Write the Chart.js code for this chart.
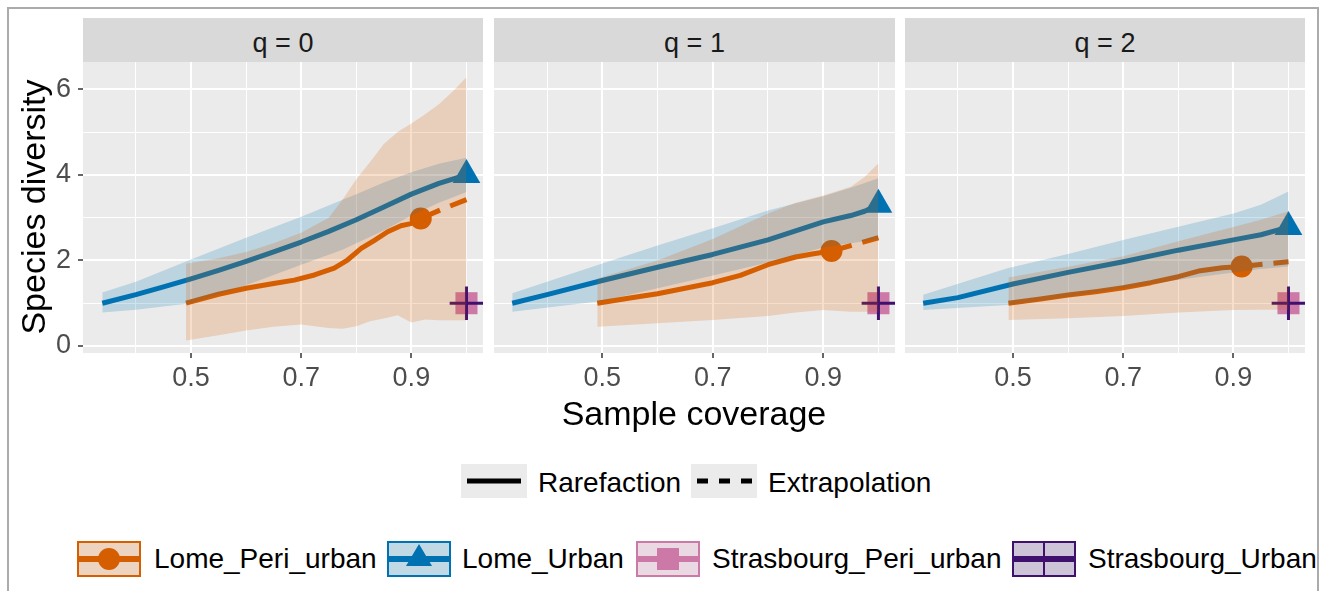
<!DOCTYPE html>
<html>
<head>
<meta charset="utf-8">
<script src="https://cdn.jsdelivr.net/npm/chart.js@4.4.1/dist/chart.umd.min.js"></script>
<style>
  html, body { margin: 0; padding: 0; background: #ffffff; }
  body { width: 1328px; height: 591px; overflow: hidden; position: relative;
         font-family: "Liberation Sans", Arial, sans-serif; }
  .frame { position: absolute; left: 7px; top: 7px; width: 1312px; height: 640px;
           border: 2px solid #ABABAB; box-sizing: border-box; }
  .strip { position: absolute; top: 18px; height: 41px; padding-top: 3px; background: #D9D9D9;
           color: #1A1A1A; font-size: 27px; line-height: 44px; text-align: center; white-space: nowrap; }
  canvas.panel { position: absolute; top: 62px; }
  .title { position: absolute; color: #000; font-size: 34px; line-height: 40px; white-space: nowrap; }
  .legtxt { position: absolute; color: #000; font-size: 28px; line-height: 34px; white-space: nowrap; }
  .key { position: absolute; display: block; }
</style>
</head>
<body>
<div class="frame"></div>

<div id="strips"></div>
<canvas id="c0" class="panel" width="483" height="340" style="left:0px"></canvas>
<canvas id="c1" class="panel" width="401" height="340" style="left:494px"></canvas>
<canvas id="c2" class="panel" width="400" height="340" style="left:905px"></canvas>

<div class="title" id="xtitle" style="left:494px; width:400px; top:393px; text-align:center;">Sample coverage</div>
<div class="title" id="ytitle" style="left:-117px; top:187px; width:300px; height:40px; text-align:center; transform:rotate(-90deg);">Species diversity</div>

<div id="legend"></div>

<script>
// ---------------- axes / labels ----------------
const xMin = 0.304, xMax = 1.030;
const yMin = -0.164, yMax = 6.639;
const xGrid = [0.4, 0.5, 0.6, 0.7, 0.8, 0.9, 1.0];
const xLabelled = [0.5, 0.7, 0.9];
const yGrid = [0, 1, 2, 3, 4, 5, 6];
const yLabelled = [0, 2, 4, 6];
const panelTitles = ['q = 0', 'q = 1', 'q = 2'];
const methodNames = ['Rarefaction', 'Extrapolation'];
const seriesNames = ['Lome_Peri_urban', 'Lome_Urban', 'Strasbourg_Peri_urban', 'Strasbourg_Urban'];

// ---------------- q = 0 ----------------
const periRareCovQ0 = [0.491, 0.55, 0.6, 0.65, 0.6875, 0.724, 0.76, 0.784, 0.809, 0.833, 0.857, 0.881, 0.899, 0.917];
const periRareQ0    = [1.00, 1.21, 1.35, 1.46, 1.54, 1.66, 1.82, 2.01, 2.28, 2.47, 2.67, 2.81, 2.86, 2.98];
const periExtCovQ0  = [0.917, 0.96, 1.0];
const periExtQ0     = [2.98, 3.22, 3.42];
const periBandCovQ0 = [0.491, 0.55, 0.6, 0.65, 0.7, 0.75, 0.775, 0.8, 0.825, 0.85, 0.875, 0.9, 0.925, 0.95, 0.975, 1.0];
const periUppQ0     = [1.92, 2.05, 2.2, 2.4, 2.65, 3.0, 3.42, 3.9, 4.3, 4.72, 5.0, 5.2, 5.42, 5.65, 5.95, 6.28];
const periLowQ0     = [0.13, 0.25, 0.36, 0.45, 0.5, 0.42, 0.4, 0.46, 0.58, 0.64, 0.72, 0.55, 0.62, 0.6, 0.6, 0.6];
const urbRareCovQ0  = [0.339, 0.4, 0.45, 0.5, 0.55, 0.6, 0.65, 0.7, 0.75, 0.8, 0.85, 0.9, 0.95, 0.975, 1.0];
const urbRareQ0     = [1.00, 1.20, 1.38, 1.57, 1.77, 1.98, 2.20, 2.43, 2.68, 2.95, 3.25, 3.55, 3.80, 3.90, 4.00];
const urbBandCovQ0  = [0.339, 0.4, 0.5, 0.6, 0.7, 0.775, 0.8, 0.85, 0.9, 0.95, 1.0];
const urbUppQ0      = [1.25, 1.5, 2.02, 2.53, 3.02, 3.42, 3.55, 3.82, 4.06, 4.26, 4.40];
const urbLowQ0      = [0.78, 0.85, 1.0, 1.42, 1.9, 2.25, 2.4, 2.7, 3.05, 3.35, 3.6];

// ---------------- q = 1 ----------------
const periRareCovQ1 = [0.491, 0.55, 0.6, 0.65, 0.7, 0.75, 0.8, 0.85, 0.88, 0.915];
const periRareQ1    = [1.00, 1.12, 1.22, 1.35, 1.48, 1.65, 1.90, 2.08, 2.15, 2.22];
const periExtCovQ1  = [0.915, 1.0];
const periExtQ1     = [2.22, 2.53];
const periBandCovQ1 = [0.491, 0.6, 0.7, 0.8, 0.85, 0.9, 0.95, 0.975, 1.0];
const periUppQ1     = [1.58, 2.0, 2.5, 3.1, 3.35, 3.52, 3.72, 3.95, 4.27];
const periLowQ1     = [0.45, 0.53, 0.61, 0.70, 0.78, 0.84, 0.80, 0.80, 0.80];
const urbRareCovQ1  = [0.337, 0.4, 0.5, 0.6, 0.7, 0.8, 0.9, 0.95, 0.975, 1.0];
const urbRareQ1     = [1.00, 1.20, 1.53, 1.84, 2.14, 2.48, 2.90, 3.05, 3.15, 3.30];
const urbBandCovQ1  = [0.337, 0.5, 0.6, 0.7, 0.8, 0.9, 0.95, 1.0];
const urbUppQ1      = [1.23, 1.93, 2.35, 2.75, 3.17, 3.5, 3.7, 3.92];
const urbLowQ1      = [0.80, 1.05, 1.35, 1.65, 1.95, 2.30, 2.40, 2.50];

// ---------------- q = 2 ----------------
const periRareCovQ2 = [0.4917, 0.55, 0.6, 0.65, 0.7, 0.75, 0.8, 0.84, 0.88, 0.915];
const periRareQ2    = [1.00, 1.10, 1.19, 1.27, 1.36, 1.48, 1.62, 1.76, 1.83, 1.86];
const periExtCovQ2  = [0.915, 1.0];
const periExtQ2     = [1.86, 1.97];
const periBandCovQ2 = [0.4917, 0.6, 0.7, 0.8, 0.9, 0.95, 1.0];
const periUppQ2     = [1.60, 1.85, 2.10, 2.45, 2.78, 2.95, 3.15];
const periLowQ2     = [0.61, 0.65, 0.70, 0.78, 0.84, 0.85, 0.85];
const urbRareCovQ2  = [0.337, 0.4, 0.5, 0.6, 0.7, 0.8, 0.9, 0.95, 1.0];
const urbRareQ2     = [1.00, 1.13, 1.45, 1.72, 1.97, 2.24, 2.48, 2.60, 2.78];
const urbBandCovQ2  = [0.337, 0.49, 0.6, 0.7, 0.8, 0.9, 0.95, 1.0];
const urbUppQ2      = [1.20, 1.82, 2.15, 2.48, 2.79, 3.10, 3.30, 3.61];
const urbLowQ2      = [0.84, 0.96, 1.15, 1.35, 1.55, 1.72, 1.80, 1.86];

// observed points (sample coverage, diversity) per panel q = 0, 1, 2
const periObsCov = [0.917, 0.915, 0.915];
const periObs    = [2.98, 2.22, 1.86];
const urbObsCov  = [1.0, 1.0, 1.0];
const urbObs     = [4.00, 3.30, 2.78];
const strasPeriObsCov = [1.0, 1.0, 1.0];
const strasPeriObs    = [1.0, 1.0, 1.0];
const strasUrbObsCov  = [1.0, 1.0, 1.0];
const strasUrbObs     = [1.0, 1.0, 1.0];

// ---------------- styles ----------------
const colOrange = '#D55E00', colBlue = '#0072B2', colPink = '#CC79A7', colPurple = '#40106F';
const bandOrange = 'rgba(213,94,0,0.2)', bandBlue = 'rgba(0,114,178,0.2)';
const bandPink = 'rgba(204,121,167,0.2)', bandPurple = 'rgba(64,16,111,0.2)';
const FONT = "'Liberation Sans', Arial, sans-serif";

const panels = [
  { periRareCov: periRareCovQ0, periRare: periRareQ0, periExtCov: periExtCovQ0, periExt: periExtQ0,
    periBandCov: periBandCovQ0, periUpp: periUppQ0, periLow: periLowQ0,
    urbRareCov: urbRareCovQ0, urbRare: urbRareQ0, urbBandCov: urbBandCovQ0, urbUpp: urbUppQ0, urbLow: urbLowQ0 },
  { periRareCov: periRareCovQ1, periRare: periRareQ1, periExtCov: periExtCovQ1, periExt: periExtQ1,
    periBandCov: periBandCovQ1, periUpp: periUppQ1, periLow: periLowQ1,
    urbRareCov: urbRareCovQ1, urbRare: urbRareQ1, urbBandCov: urbBandCovQ1, urbUpp: urbUppQ1, urbLow: urbLowQ1 },
  { periRareCov: periRareCovQ2, periRare: periRareQ2, periExtCov: periExtCovQ2, periExt: periExtQ2,
    periBandCov: periBandCovQ2, periUpp: periUppQ2, periLow: periLowQ2,
    urbRareCov: urbRareCovQ2, urbRare: urbRareQ2, urbBandCov: urbBandCovQ2, urbUpp: urbUppQ2, urbLow: urbLowQ2 }
];

const pts = (xs, ys) => xs.map((x, i) => ({ x: x, y: ys[i] }));
const near = (v, arr) => arr.some(a => Math.abs(a - v) < 1e-6);

const bgPlugin = {
  id: 'panelBg',
  beforeDraw(chart) {
    const a = chart.chartArea, ctx = chart.ctx;
    ctx.save();
    ctx.fillStyle = '#EBEBEB';
    ctx.fillRect(a.left, a.top, a.right - a.left, a.bottom - a.top);
    ctx.restore();
  }
};

Chart.defaults.font.family = FONT;

function makePanel(canvasId, k, showY) {
  const p = panels[k];
  const none = { pointRadius: 0, pointHoverRadius: 0, borderWidth: 0 };
  const datasets = [
    // ribbons (drawn on top, index 0 is painted last)
    Object.assign({ label: seriesNames[0] + ' upper', data: pts(p.periBandCov, p.periUpp), fill: '+1', backgroundColor: bandOrange, borderColor: 'rgba(0,0,0,0)' }, none),
    Object.assign({ label: seriesNames[0] + ' lower', data: pts(p.periBandCov, p.periLow), fill: false, borderColor: 'rgba(0,0,0,0)' }, none),
    Object.assign({ label: seriesNames[1] + ' upper', data: pts(p.urbBandCov, p.urbUpp), fill: '+1', backgroundColor: bandBlue, borderColor: 'rgba(0,0,0,0)' }, none),
    Object.assign({ label: seriesNames[1] + ' lower', data: pts(p.urbBandCov, p.urbLow), fill: false, borderColor: 'rgba(0,0,0,0)' }, none),
    // reference markers
    { label: seriesNames[3], data: pts([strasUrbObsCov[k]], [strasUrbObs[k]]), showLine: false,
      pointStyle: 'cross', pointRadius: 16.8, pointHoverRadius: 16.8, pointBorderColor: colPurple, pointBorderWidth: 3, pointBackgroundColor: colPurple },
    { label: seriesNames[2], data: pts([strasPeriObsCov[k]], [strasPeriObs[k]]), showLine: false,
      pointStyle: 'rect', pointRadius: 15.6, pointHoverRadius: 15.6, pointBorderWidth: 0, pointBackgroundColor: colPink },
    { label: seriesNames[0] + ' obs', data: pts([periObsCov[k]], [periObs[k]]), showLine: false,
      pointStyle: 'circle', pointRadius: 11, pointHoverRadius: 11, pointBorderWidth: 0, pointBackgroundColor: colOrange },
    { label: seriesNames[1] + ' obs', data: pts([urbObsCov[k]], [urbObs[k]]), showLine: false,
      pointStyle: 'triangle', pointRadius: 16, pointHoverRadius: 16, pointBorderWidth: 0, pointBackgroundColor: colBlue },
    // lines
    { label: seriesNames[0] + ' ' + methodNames[1], data: pts(p.periExtCov, p.periExt), fill: false, borderColor: colOrange, borderWidth: 5, borderDash: [21, 11], pointRadius: 0, pointHoverRadius: 0 },
    { label: seriesNames[0] + ' ' + methodNames[0], data: pts(p.periRareCov, p.periRare), fill: false, borderColor: colOrange, borderWidth: 5, pointRadius: 0, pointHoverRadius: 0 },
    { label: seriesNames[1] + ' ' + methodNames[0], data: pts(p.urbRareCov, p.urbRare), fill: false, borderColor: colBlue, borderWidth: 5, pointRadius: 0, pointHoverRadius: 0 }
  ];

  return new Chart(document.getElementById(canvasId), {
    type: 'line',
    data: { datasets: datasets },
    plugins: [bgPlugin],
    options: {
      responsive: false, animation: false, devicePixelRatio: 1,
      events: [],
      layout: { padding: 0, autoPadding: false },
      elements: { line: { tension: 0, borderJoinStyle: 'round', borderCapStyle: 'butt' }, point: { radius: 0 } },
      plugins: { legend: { display: false }, tooltip: { enabled: false }, filler: { propagate: false } },
      scales: {
        x: {
          type: 'linear', min: xMin, max: xMax,
          afterBuildTicks: s => { s.ticks = xGrid.map(v => ({ value: v })); },
          afterFit: s => { s.height = 49; s.paddingLeft = 0; s.paddingRight = 0; },
          border: { display: false },
          grid: {
            color: '#FFFFFF',
            lineWidth: c => (c.tick && near(c.tick.value, xLabelled)) ? 2 : 1,
            drawTicks: true, tickLength: 5,
            tickColor: c => (c.tick && near(c.tick.value, xLabelled)) ? '#333333' : 'rgba(0,0,0,0)',
            tickWidth: 1.5
          },
          ticks: {
            autoSkip: false, maxRotation: 0, minRotation: 0, padding: 4,
            color: '#4D4D4D', font: { size: 27, family: FONT },
            callback: v => near(v, xLabelled) ? v.toFixed(1) : ''
          }
        },
        y: {
          type: 'linear', min: yMin, max: yMax,
          afterBuildTicks: s => { s.ticks = yGrid.map(v => ({ value: v })); },
          afterFit: s => { s.width = showY ? 83 : 0; s.paddingTop = 0; s.paddingBottom = 0; },
          border: { display: false },
          grid: {
            color: '#FFFFFF',
            lineWidth: c => (c.tick && near(c.tick.value, yLabelled)) ? 2 : 1,
            drawTicks: showY, tickLength: 5,
            tickColor: c => (c.tick && near(c.tick.value, yLabelled)) ? '#333333' : 'rgba(0,0,0,0)',
            tickWidth: 1.5
          },
          ticks: {
            display: showY, autoSkip: false, padding: 7,
            color: '#4D4D4D', font: { size: 27, family: FONT },
            callback: v => near(v, yLabelled) ? String(Math.round(v)) : ''
          }
        }
      }
    }
  });
}

// strips
const stripLefts = [83, 494, 905], stripWidths = [400, 401, 400];
const stripHost = document.getElementById('strips');
panelTitles.forEach((t, i) => {
  const d = document.createElement('div');
  d.className = 'strip';
  d.style.left = stripLefts[i] + 'px';
  d.style.width = stripWidths[i] + 'px';
  d.textContent = t;
  stripHost.appendChild(d);
});

makePanel('c0', 0, true);
makePanel('c1', 1, false);
makePanel('c2', 2, false);

// ---------------- legends ----------------
const leg = document.getElementById('legend');
function addKey(left, top, svg) {
  const d = document.createElement('div');
  d.className = 'key';
  d.style.left = left + 'px'; d.style.top = top + 'px';
  d.innerHTML = svg;
  leg.appendChild(d);
}
function addText(left, top, txt) {
  const d = document.createElement('div');
  d.className = 'legtxt';
  d.style.left = left + 'px'; d.style.top = top + 'px';
  d.textContent = txt;
  leg.appendChild(d);
}
// line-type legend
addKey(461, 464, '<svg width="66" height="34"><rect width="66" height="34" fill="#EBEBEB"/><line x1="6" y1="17" x2="60" y2="17" stroke="#000" stroke-width="5"/></svg>');
addText(538, 466, methodNames[0]);
addKey(691, 464, '<svg width="66" height="34"><rect width="66" height="34" fill="#EBEBEB"/><line x1="6" y1="17" x2="61" y2="17" stroke="#000" stroke-width="5" stroke-dasharray="11 11"/></svg>');
addText(768, 466, methodNames[1]);

// series legend
function keySvg(col, band, marker) {
  return '<svg width="64" height="36">' +
    '<rect x="0" y="0" width="64" height="36" fill="#F2F2F2"/>' +
    '<rect x="1" y="1" width="62" height="34" fill="' + band + '" stroke="' + col + '" stroke-width="2"/>' +
    '<line x1="2" y1="18" x2="62" y2="18" stroke="' + col + '" stroke-width="6"/>' + marker + '</svg>';
}
addKey(77, 541, keySvg(colOrange, bandOrange, '<circle cx="32" cy="18" r="11" fill="' + colOrange + '"/>'));
addText(154, 542, seriesNames[0]);
addKey(387, 541, keySvg(colBlue, bandBlue, '<polygon points="32,3 45,25 19,25" fill="' + colBlue + '"/>'));
addText(462, 542, seriesNames[1]);
addKey(636, 541, keySvg(colPink, bandPink, '<rect x="21" y="7" width="22" height="22" fill="' + colPink + '"/>'));
addText(712, 542, seriesNames[2]);
addKey(1012, 541, keySvg(colPurple, bandPurple, '<line x1="32" y1="1" x2="32" y2="35" stroke="' + colPurple + '" stroke-width="2"/>'));
addText(1088, 542, seriesNames[3]);
</script>
</body>
</html>
